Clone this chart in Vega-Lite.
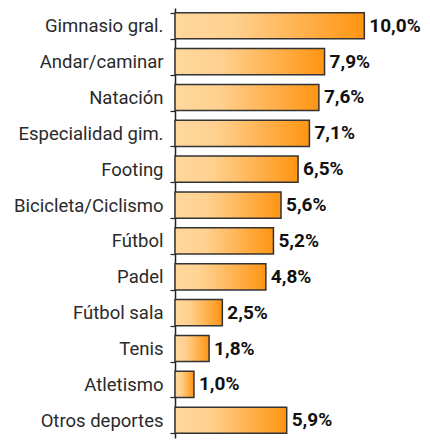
{
  "$schema": "https://vega.github.io/schema/vega-lite/v6.json",
  "autosize": "none",
  "width": 255,
  "height": 430,
  "padding": {"left": 175, "top": 8, "right": 0, "bottom": 2},
  "background": "white",
  "data": {"values": [
    {"deporte": "Gimnasio gral.", "valor": 10.0, "label": "10,0%"},
    {"deporte": "Andar/caminar", "valor": 7.9, "label": "7,9%"},
    {"deporte": "Natación", "valor": 7.6, "label": "7,6%"},
    {"deporte": "Especialidad gim.", "valor": 7.1, "label": "7,1%"},
    {"deporte": "Footing", "valor": 6.5, "label": "6,5%"},
    {"deporte": "Bicicleta/Ciclismo", "valor": 5.6, "label": "5,6%"},
    {"deporte": "Fútbol", "valor": 5.2, "label": "5,2%"},
    {"deporte": "Padel", "valor": 4.8, "label": "4,8%"},
    {"deporte": "Fútbol sala", "valor": 2.5, "label": "2,5%"},
    {"deporte": "Tenis", "valor": 1.8, "label": "1,8%"},
    {"deporte": "Atletismo", "valor": 1.0, "label": "1,0%"},
    {"deporte": "Otros deportes", "valor": 5.9, "label": "5,9%"}
  ]},
  "encoding": {
    "y": {
      "field": "deporte", "type": "nominal", "sort": null,
      "scale": {"paddingInner": 0.27, "paddingOuter": 0.13},
      "axis": {
        "title": null, "tickBand": "extent", "domainColor": "#222", "domainWidth": 1.5,
        "tickColor": "#222", "tickSize": 5, "tickWidth": 1.2,
        "labelFont": "Roboto", "labelFontSize": 18.5, "labelColor": "#2a2a2a",
        "labelPadding": 7
      }
    },
    "x": {
      "field": "valor", "type": "quantitative",
      "scale": {"domain": [0, 13.47], "nice": false},
      "axis": null
    }
  },
  "layer": [
    {
      "mark": {
        "type": "bar",
        "stroke": "#333",
        "strokeWidth": 1.5,
        "color": {
          "gradient": "linear", "x1": 0, "x2": 1, "y1": 0, "y2": 0,
          "stops": [
            {"offset": 0, "color": "#FFD89C"},
            {"offset": 0.3, "color": "#FFD190"},
            {"offset": 1, "color": "#FF9512"}
          ]
        }
      }
    },
    {
      "mark": {"type": "text", "align": "left", "dx": 5, "font": "Roboto", "fontSize": 19, "fontWeight": "bold", "color": "#111"},
      "encoding": {"text": {"field": "label"}}
    }
  ],
  "config": {"view": {"stroke": null}}
}
